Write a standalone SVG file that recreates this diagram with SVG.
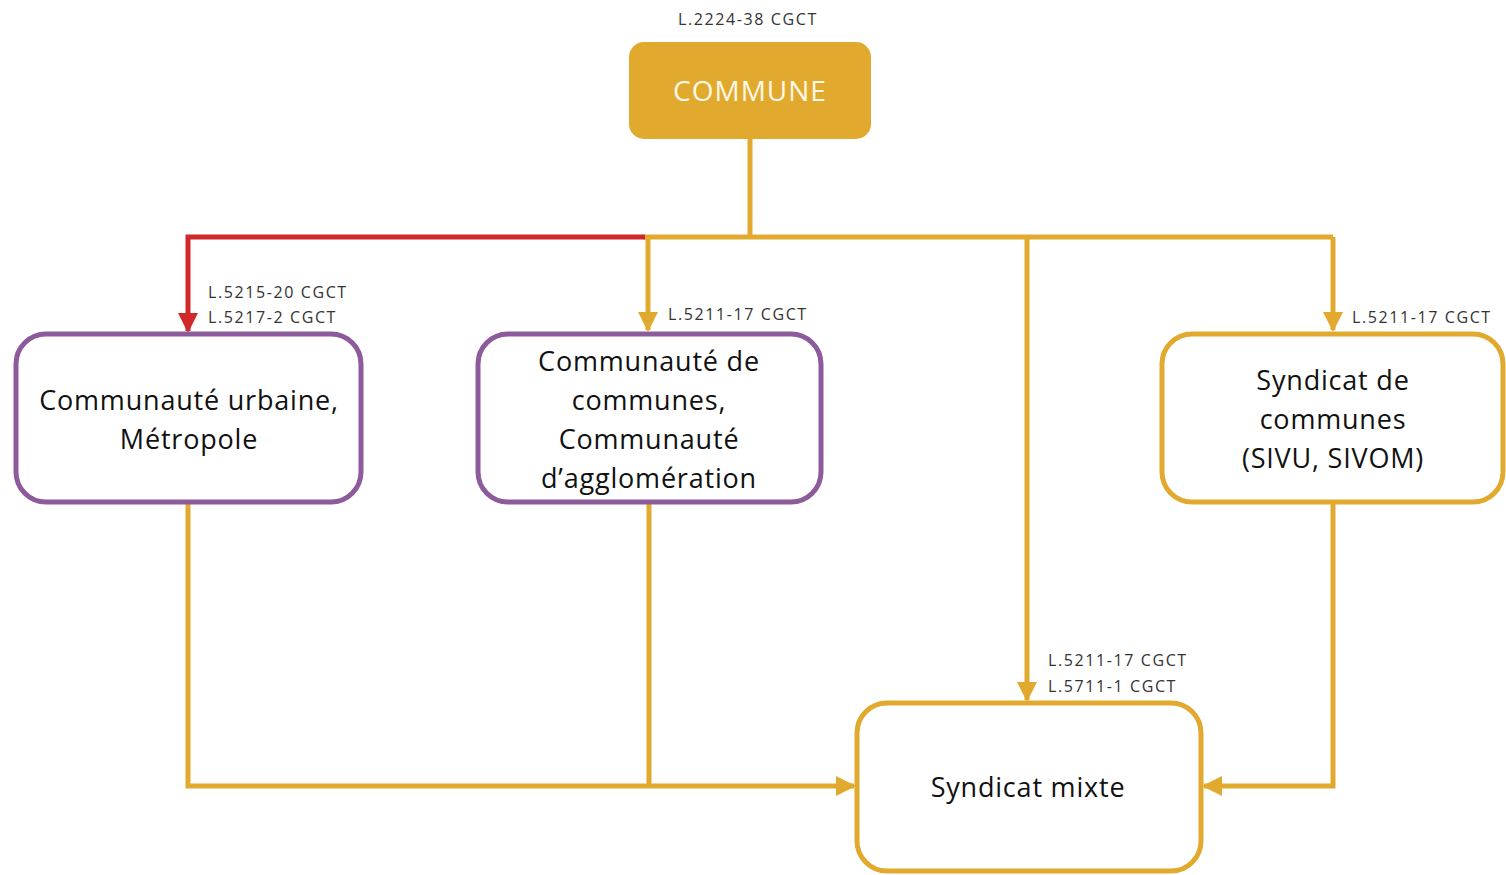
<svg xmlns="http://www.w3.org/2000/svg" width="1506" height="875" viewBox="0 0 1506 875">
<style>
.lbl{font-family:"Open Sans","Liberation Sans",sans-serif;font-size:16px;fill:#333;letter-spacing:1.6px}
.main{font-family:"Open Sans","Liberation Sans",sans-serif;font-size:27px;fill:#111;text-anchor:middle;letter-spacing:0.8px}
.g{stroke:#E1AA2E;stroke-width:5;fill:none}
.r{stroke:#D0292A;stroke-width:5;fill:none}
.pbox{fill:#fff;stroke:#8D5A9C;stroke-width:5}
.gbox{fill:#fff;stroke:#E1AA2E;stroke-width:5}
</style>
<defs>
<marker id="ag" viewBox="0 0 10 10" refX="9" refY="5" markerWidth="4" markerHeight="4" orient="auto" markerUnits="strokeWidth"><path d="M0,0 L10,5 L0,10 z" fill="#E1AA2E"/></marker>
<marker id="ar" viewBox="0 0 10 10" refX="9" refY="5" markerWidth="4" markerHeight="4" orient="auto" markerUnits="strokeWidth"><path d="M0,0 L10,5 L0,10 z" fill="#D0292A"/></marker>
</defs>
<rect width="1506" height="875" fill="#fff"/>
<g id="connectors">
<path class="g" d="M750,139 V237"/>
<path class="g" d="M643,237 H1333"/>
<path class="r" d="M645,237 H188 V331" marker-end="url(#ar)"/>
<path class="g" d="M648,237 V330" marker-end="url(#ag)"/>
<path class="g" d="M1027,237 V700" marker-end="url(#ag)"/>
<path class="g" d="M1333,237 V330" marker-end="url(#ag)"/>
<path class="g" d="M188,502 V786 H854" marker-end="url(#ag)"/>
<path class="g" d="M649,502 V786"/>
<path class="g" d="M1333,502 V786 H1204" marker-end="url(#ag)"/>
</g>
<g id="labels">
<text class="lbl" x="748" y="25" text-anchor="middle">L.2224-38 CGCT</text>
<text class="lbl" x="208" y="298">L.5215-20 CGCT</text>
<text class="lbl" x="208" y="323">L.5217-2 CGCT</text>
<text class="lbl" x="668" y="320">L.5211-17 CGCT</text>
<text class="lbl" x="1352" y="323">L.5211-17 CGCT</text>
<text class="lbl" x="1048" y="666">L.5211-17 CGCT</text>
<text class="lbl" x="1048" y="692">L.5711-1 CGCT</text>
</g>
<g id="commune">
<rect x="629" y="42" width="242" height="97" rx="15" fill="#E1AA2E"/>
<text x="750" y="101" text-anchor="middle" font-family="Open Sans,Liberation Sans,sans-serif" font-size="28" letter-spacing="1" fill="#FFF8E6">COMMUNE</text>
</g>
<g id="cu">
<rect class="pbox" x="16" y="334" width="345" height="168" rx="30"/>
<text class="main" x="189" y="410">Communauté urbaine,</text>
<text class="main" x="189" y="449">Métropole</text>
</g>
<g id="cc">
<rect class="pbox" x="478" y="334" width="343" height="168" rx="30"/>
<text class="main" x="649" y="371">Communauté de</text>
<text class="main" x="649" y="410">communes,</text>
<text class="main" x="649" y="449">Communauté</text>
<text class="main" x="649" y="488">d’agglomération</text>
</g>
<g id="sc">
<rect class="gbox" x="1162" y="334" width="341" height="168" rx="30"/>
<text class="main" x="1333" y="390">Syndicat de</text>
<text class="main" x="1333" y="429">communes</text>
<text class="main" x="1333" y="468">(SIVU, SIVOM)</text>
</g>
<g id="sm">
<rect class="gbox" x="857" y="703" width="344" height="168" rx="30"/>
<text class="main" x="1028" y="797">Syndicat mixte</text>
</g>
</svg>
